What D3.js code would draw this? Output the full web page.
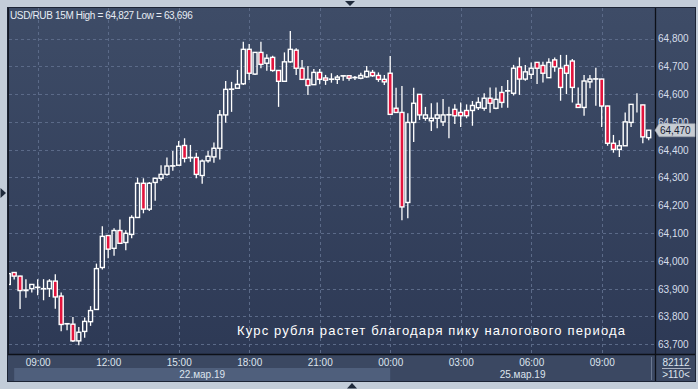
<!DOCTYPE html>
<html><head><meta charset="utf-8">
<script src="https://cdn.jsdelivr.net/npm/d3@7/dist/d3.min.js"></script>
<style>body{margin:0;background:#c3cdd9;}svg{display:block}</style>
</head><body><svg id="c" width="698" height="389"></svg>
<script>
// ---- data (USD/RUB, 15-minute candles) ----
const opens = [63.915,63.958,63.945,63.893,63.900,63.904,63.899,63.900,63.927,63.873,63.773,63.772,63.712,63.746,63.781,63.825,63.976,64.091,64.045,64.109,64.066,64.095,64.156,64.279,64.186,64.282,64.297,64.311,64.341,64.344,64.415,64.371,64.372,64.307,64.360,64.374,64.405,64.525,64.617,64.621,64.637,64.761,64.672,64.750,64.711,64.732,64.685,64.646,64.716,64.758,64.693,64.653,64.634,64.678,64.658,64.653,64.653,64.665,64.666,64.659,64.657,64.662,64.678,64.667,64.653,64.675,64.549,64.534,64.210,64.498,64.599,64.513,64.504,64.513,64.500,64.525,64.545,64.534,64.541,64.541,64.551,64.549,64.585,64.549,64.606,64.611,64.603,64.698,64.654,64.671,64.714,64.703,64.659,64.723,64.693,64.703,64.719,64.563,64.552,64.644,64.654,64.654,64.557,64.423,64.401,64.414,64.498,64.561,64.561,64.443];
const highs = [63.966,63.960,63.946,63.934,63.915,63.934,63.934,63.934,63.952,63.886,63.775,63.798,63.762,63.796,63.837,63.990,64.124,64.092,64.117,64.149,64.110,64.164,64.299,64.297,64.284,64.298,64.344,64.372,64.395,64.431,64.441,64.417,64.389,64.365,64.395,64.426,64.543,64.647,64.644,64.687,64.788,64.780,64.751,64.788,64.743,64.738,64.686,64.750,64.827,64.765,64.723,64.701,64.690,64.690,64.669,64.675,64.669,64.666,64.667,64.665,64.677,64.701,64.687,64.678,64.669,64.737,64.623,64.629,64.531,64.623,64.600,64.554,64.567,64.570,64.582,64.554,64.563,64.570,64.563,64.575,64.589,64.603,64.624,64.624,64.629,64.651,64.705,64.732,64.705,64.714,64.715,64.716,64.729,64.732,64.741,64.741,64.726,64.624,64.669,64.669,64.695,64.655,64.558,64.453,64.434,64.534,64.564,64.603,64.562,64.471];
const lows = [63.909,63.933,63.827,63.867,63.886,63.876,63.858,63.870,63.828,63.747,63.750,63.708,63.696,63.723,63.766,63.823,63.969,64.009,64.018,64.062,64.038,64.081,64.155,64.171,64.179,64.216,64.288,64.306,64.324,64.343,64.354,64.356,64.297,64.277,64.353,64.353,64.365,64.497,64.536,64.620,64.633,64.651,64.669,64.693,64.684,64.680,64.554,64.645,64.713,64.669,64.651,64.597,64.633,64.635,64.633,64.641,64.636,64.648,64.648,64.651,64.653,64.659,64.662,64.644,64.633,64.526,64.533,64.146,64.153,64.428,64.507,64.504,64.467,64.477,64.485,64.441,64.492,64.482,64.513,64.486,64.543,64.540,64.533,64.545,64.551,64.551,64.595,64.597,64.648,64.654,64.636,64.642,64.658,64.680,64.576,64.600,64.570,64.551,64.522,64.621,64.558,64.482,64.414,64.389,64.374,64.413,64.482,64.534,64.423,64.434];
const closes = [63.954,63.945,63.893,63.895,63.915,63.905,63.900,63.927,63.870,63.771,63.774,63.712,63.743,63.782,63.821,63.972,64.088,64.042,64.109,64.063,64.099,64.156,64.279,64.186,64.279,64.297,64.311,64.341,64.342,64.412,64.369,64.372,64.311,64.359,64.376,64.405,64.525,64.617,64.618,64.635,64.761,64.675,64.750,64.707,64.729,64.685,64.646,64.716,64.761,64.693,64.653,64.631,64.678,64.653,64.650,64.654,64.661,64.666,64.657,64.660,64.667,64.682,64.666,64.653,64.644,64.527,64.534,64.194,64.498,64.567,64.525,64.525,64.513,64.525,64.525,64.526,64.522,64.522,64.522,64.559,64.570,64.585,64.567,64.581,64.570,64.612,64.693,64.654,64.680,64.693,64.693,64.675,64.714,64.698,64.624,64.675,64.624,64.552,64.647,64.654,64.655,64.557,64.423,64.401,64.414,64.500,64.563,64.561,64.446,64.470];
const priceTicks = [63.7,63.8,63.9,64.0,64.1,64.2,64.3,64.4,64.5,64.6,64.7,64.8];
const timeTickLabels = ["09:00","12:00","15:00","18:00","21:00","00:00","03:00","06:00","09:00"];
const dayLabels = ["22.мар.19","25.мар.19"];
const title = "USD/RUB 15M High = 64,827 Low = 63,696";
const note = "Курс рубля растет благодаря пику налогового периода";
const lastPrice = 64.470;
const barInfo = ["82112", ">110<"];

// categories: 15-minute timestamps, weekend skipped
const start = new Date(2019, 2, 22, 7, 45);
const times = opens.map((_, i) => new Date(start.getTime() + i * 15 * 60000 + (i >= 65 ? 48 * 3600000 : 0)));

const svg = d3.select("#c");
const W = 698, H = 389;
const plot = {l: 9, r: 655, t: 8, b: 354};
const font = "'Liberation Sans', Arial, sans-serif";

const x = d3.scaleLinear().domain([0, opens.length - 1]).range([8.3, 648.7]);
const y = d3.scaleLinear().domain([63.7, 64.8]).range([344.2, 38.5]);
const fmt = v => d3.format(".3f")(v).replace(".", ",");

const defs = svg.append("defs");
const g1 = defs.append("linearGradient").attr("id", "bg").attr("x1", 0).attr("x2", 0).attr("y1", 0).attr("y2", 1);
g1.append("stop").attr("offset", "0%").attr("stop-color", "#3e4c67");
g1.append("stop").attr("offset", "100%").attr("stop-color", "#2c3854");
defs.append("clipPath").attr("id", "clip").append("rect")
  .attr("x", plot.l).attr("y", plot.t).attr("width", plot.r - plot.l).attr("height", plot.b - plot.t);

// outer
svg.append("rect").attr("width", W).attr("height", H).attr("fill", "#c3cdd9");
svg.append("rect").attr("x", 7.5).attr("y", 7.5).attr("width", 688).attr("height", 374)
  .attr("fill", "url(#bg)").attr("stroke", "#1c2435").attr("stroke-width", 1);

// bottom rows
svg.append("rect").attr("x", 8).attr("y", 355).attr("width", 687).attr("height", 26).attr("fill", "#3b4862");
const dayIdx = times.map((t, i) => i).filter(i => i === 0 || times[i].getDate() !== times[i - 1].getDate());
svg.append("rect").attr("x", x(1)).attr("y", 368).attr("width", x(dayIdx[1]) - x(1)).attr("height", 13).attr("fill", "#4f5f7c");

// grid
const tickIdx = times.map((t, i) => i).filter(i => times[i].getMinutes() === 0 && times[i].getHours() % 3 === 0);
const grid = svg.append("g").attr("stroke", "#5b6a88").attr("stroke-dasharray", "3,3").attr("stroke-width", 1);
grid.selectAll("line.h").data(priceTicks).join("line")
  .attr("x1", plot.l).attr("x2", plot.r).attr("y1", d => Math.round(y(d)) + 0.5).attr("y2", d => Math.round(y(d)) + 0.5);
grid.selectAll("line.v").data(tickIdx).join("line")
  .attr("y1", plot.t).attr("y2", plot.b).attr("x1", d => Math.round(x(d)) + 0.5).attr("x2", d => Math.round(x(d)) + 0.5);

// candles
const data = opens.map((o, i) => ({i, o, h: highs[i], l: lows[i], c: closes[i]}));
const cg = svg.append("g").attr("clip-path", "url(#clip)");
const bw = 4;
const cand = cg.selectAll("g.c").data(data).join("g");
cand.append("line").attr("stroke", "#fff").attr("stroke-width", 1.3)
  .attr("x1", d => x(d.i)).attr("x2", d => x(d.i))
  .attr("y1", d => y(d.h)).attr("y2", d => y(Math.max(d.o, d.c)));
cand.append("line").attr("stroke", "#fff").attr("stroke-width", 1.3)
  .attr("x1", d => x(d.i)).attr("x2", d => x(d.i))
  .attr("y1", d => y(Math.min(d.o, d.c))).attr("y2", d => y(d.l));
cand.append("rect")
  .attr("x", d => x(d.i) - bw / 2).attr("width", bw)
  .attr("y", d => y(Math.max(d.o, d.c)))
  .attr("height", d => Math.abs(y(d.o) - y(d.c)))
  .attr("fill", d => d.c < d.o ? "#e3143d" : "none")
  .attr("stroke", "#fff").attr("stroke-width", 1.4);

// frame lines
svg.append("line").attr("x1", 8).attr("x2", 695).attr("y1", 354.5).attr("y2", 354.5).attr("stroke", "#0d1018").attr("stroke-width", 1.6);
svg.append("line").attr("x1", 655.5).attr("x2", 655.5).attr("y1", 8).attr("y2", 381).attr("stroke", "#0d1018").attr("stroke-width", 1.3);
svg.append("line").attr("x1", 8.5).attr("x2", 8.5).attr("y1", 8).attr("y2", 354).attr("stroke", "#141a26").attr("stroke-width", 1);
svg.append("line").attr("x1", 651.5).attr("x2", 651.5).attr("y1", 357).attr("y2", 380).attr("stroke", "#6a7790").attr("stroke-width", 1);

// y axis
const yAxis = d3.axisRight(y).tickValues(priceTicks).tickFormat(fmt).tickSize(0).tickPadding(0);
const ya = svg.append("g").attr("transform", "translate(658,0)").call(yAxis);
ya.select(".domain").remove();
ya.selectAll("text").attr("fill", "#d6deea").attr("font-family", font).attr("font-size", 10).attr("dy", "0.34em").attr("x", 0);

// x axis
const xAxis = d3.axisBottom(x).tickValues(tickIdx).tickFormat((d, k) => timeTickLabels[k]).tickSize(0).tickPadding(0);
const xa = svg.append("g").attr("transform", "translate(0,359)").call(xAxis);
xa.select(".domain").remove();
xa.selectAll("text").attr("fill", "#dde4ee").attr("font-family", font).attr("font-size", 10).attr("dy", "0.71em");

// day labels
const dayRanges = [[x(1), x(dayIdx[1])], [x(dayIdx[1]), plot.r]];
svg.selectAll("text.day").data(dayLabels).join("text")
  .attr("x", (d, k) => (dayRanges[k][0] + dayRanges[k][1]) / 2).attr("y", 377.5)
  .attr("text-anchor", "middle").attr("fill", "#dde4ee").attr("font-family", font).attr("font-size", 10).text(d => d);

// bottom-right info
svg.append("text").attr("x", 676).attr("y", 365.5).attr("text-anchor", "middle").attr("fill", "#dde4ee")
  .attr("font-family", font).attr("font-size", 10).text(barInfo[0]);
svg.append("line").attr("x1", 662).attr("x2", 691).attr("y1", 368.5).attr("y2", 368.5).attr("stroke", "#c9d1dc").attr("stroke-width", 0.8);
svg.append("text").attr("x", 676).attr("y", 378).attr("text-anchor", "middle").attr("fill", "#dde4ee")
  .attr("font-family", font).attr("font-size", 10).text(barInfo[1]);

// last price tag
const ly = y(lastPrice);
svg.append("path").attr("d", `M655,${ly} L659,${ly - 6.5} L695,${ly - 6.5} L695,${ly + 6.5} L659,${ly + 6.5} Z`)
  .attr("fill", "#c7ccd3").attr("stroke", "#9aa3b0").attr("stroke-width", 0.6);
svg.append("text").attr("x", 660).attr("y", ly).attr("dy", "0.35em").attr("fill", "#162033")
  .attr("font-family", font).attr("font-size", 10).text(fmt(lastPrice));

// title
svg.append("text").attr("x", 10).attr("y", 18.5).attr("fill", "#e6ecf4").attr("font-family", font)
  .attr("font-size", 10).attr("letter-spacing", "-0.35").text(title);

// annotation
svg.append("text").attr("x", 237).attr("y", 335).attr("fill", "#ffffff").attr("font-family", font)
  .attr("font-size", 13).attr("textLength", 388).attr("lengthAdjust", "spacing").text(note);

// small triangles on the frame
const tri = [[[345, 1], [355, 1], [350, 6]], [[347, 388.5], [357, 388.5], [352, 383]], [[0.5, 188], [0.5, 198], [6, 193]]];
svg.selectAll("path.tri").data(tri).join("path").attr("d", d => "M" + d.join("L") + "Z").attr("fill", "#1f2a3b");
</script></body></html>
